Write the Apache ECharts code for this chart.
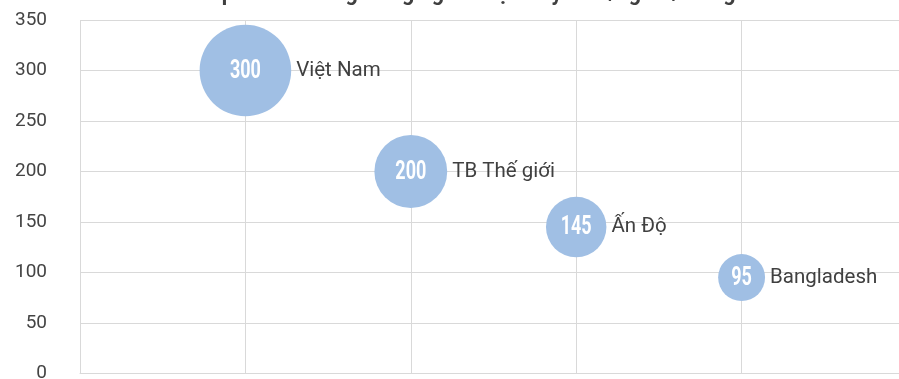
<!DOCTYPE html>
<html>
<head>
<meta charset="utf-8">
<script src="https://cdn.jsdelivr.net/npm/echarts@6/dist/echarts.min.js"></script>
<style>
  html, body { margin: 0; padding: 0; background: #fff; }
  #chart { width: 899px; height: 379px; }
</style>
</head>
<body>
<div id="chart"></div>
<script>
// Labour cost in the garment industry, USD per worker per month
const chartTitle = 'Chi phí nhân công trong ngành dệt may USD/người/tháng';
const countries = ['Việt Nam', 'TB Thế giới', 'Ấn Độ', 'Bangladesh'];
const positions = [1, 2, 3, 4];
const wages = [300, 200, 145, 95];
const yTicks = [0, 50, 100, 150, 200, 250, 300, 350];

const points = countries.map((name, i) => ({
  name: name,
  value: [positions[i], wages[i]]
}));

// bubble diameter grows with the square root of the wage
const bubbleSize = (v) => 5.9 * Math.sqrt(v[1]) - 10.6;

const chart = echarts.init(document.getElementById('chart'), null, { renderer: 'canvas' });
chart.setOption({
  animation: false,
  backgroundColor: '#ffffff',
  graphic: [{
    type: 'text',
    x: 460,
    y: 6,
    style: {
      text: chartTitle,
      font: 'bold 21.5px Roboto',
      fill: '#404040',
      textAlign: 'center',
      textVerticalAlign: 'bottom'
    }
  }],
  grid: { left: 80, right: -8, top: 20, bottom: 5.5, containLabel: false, outerBoundsMode: 'none' },
  xAxis: {
    type: 'value',
    min: 0,
    max: 5,
    interval: 1,
    axisLine: { show: true, lineStyle: { color: '#d9d9d9', width: 1 } },
    axisTick: { show: false },
    axisLabel: { show: false },
    splitLine: { show: true, lineStyle: { color: '#d9d9d9', width: 1 } }
  },
  yAxis: {
    type: 'value',
    min: yTicks[0],
    max: yTicks[yTicks.length - 1],
    interval: yTicks[1] - yTicks[0],
    axisLine: { show: false },
    axisTick: { show: false },
    axisLabel: {
      margin: 33,
      color: '#444444',
      fontFamily: 'Roboto',
      fontSize: 19
    },
    splitLine: { show: true, lineStyle: { color: '#d9d9d9', width: 1 } }
  },
  series: [
    {
      // bubbles with the country name on the right
      type: 'scatter',
      data: points,
      symbol: 'circle',
      symbolSize: bubbleSize,
      itemStyle: { color: '#a0bfe4', opacity: 1 },
      label: {
        show: true,
        position: 'right',
        distance: 5,
        formatter: (p) => p.name,
        color: '#404040',
        fontFamily: 'Roboto',
        fontSize: 20.5
      },
      z: 3
    },
    {
      // wage value printed in a condensed bold face at each bubble's centre
      type: 'custom',
      data: points.map((p) => p.value),
      silent: true,
      z: 5,
      renderItem: (params, api) => {
        const c = api.coord([api.value(0), api.value(1)]);
        return {
          type: 'text',
          x: c[0],
          y: c[1] + 1,
          scaleX: 0.72,
          style: {
            text: String(api.value(1)),
            font: 'bold 25px Roboto',
            fill: '#ffffff',
            textAlign: 'center',
            textVerticalAlign: 'middle'
          }
        };
      }
    }
  ]
});
</script>
</body>
</html>
